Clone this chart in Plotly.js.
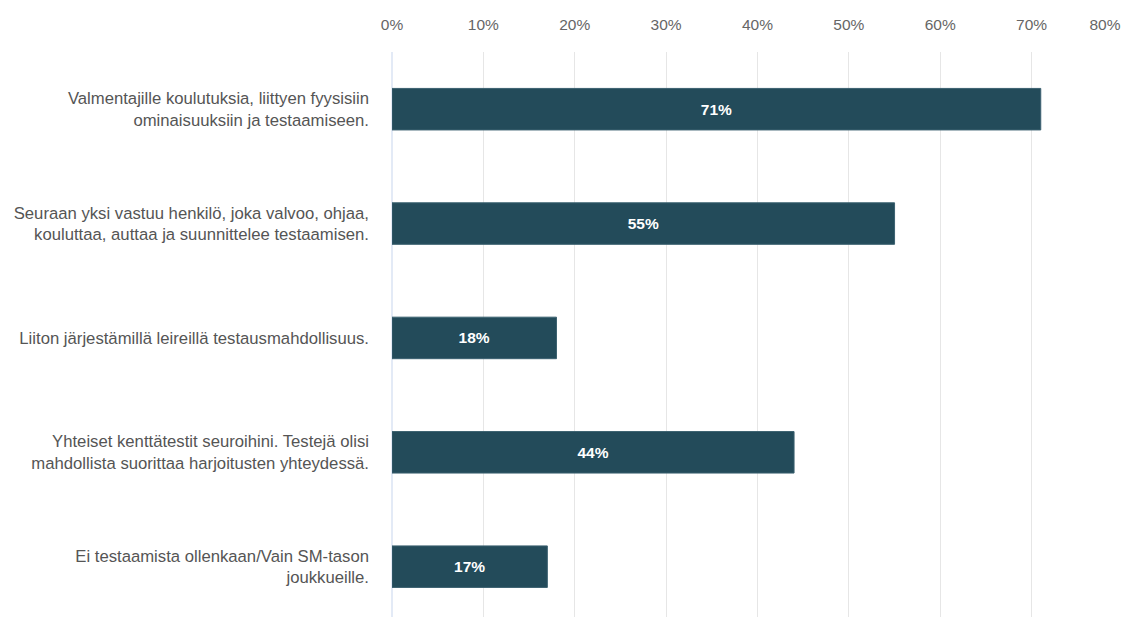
<!DOCTYPE html>
<html>
<head>
<meta charset="utf-8">
<script src="https://cdn.plot.ly/plotly-3.0.1.min.js"></script>
<style>html,body{margin:0;padding:0;background:#fff;}#chart{width:1123px;height:617px;}</style>
</head>
<body>
<div id="chart"></div>
<script>
const categories = [
  "Valmentajille koulutuksia, liittyen fyysisiin<br>ominaisuuksiin ja testaamiseen.",
  "Seuraan yksi vastuu henkilö, joka valvoo, ohjaa,<br>kouluttaa, auttaa ja suunnittelee testaamisen.",
  "Liiton järjestämillä leireillä testausmahdollisuus.",
  "Yhteiset kenttätestit seuroihini. Testejä olisi<br>mahdollista suorittaa harjoitusten yhteydessä.",
  "Ei testaamista ollenkaan/Vain SM-tason<br>joukkueille."
];
const values = [71, 55, 18, 44, 17];
const tickVals = [0, 10, 20, 30, 40, 50, 60, 70];
const tickText = ["0%", "10%", "20%", "30%", "40%", "50%", "60%", "70%"];
const lastTickVal = [80];
const lastTickText = ["80%"];

const font = "'Liberation Sans', Arial, Helvetica, sans-serif";

const data = [{
  type: "bar",
  orientation: "h",
  y: categories,
  x: values,
  text: values.map(v => v + "%"),
  textposition: "inside",
  insidetextanchor: "middle",
  textfont: {family: font, size: 15.5, color: "#ffffff", weight: "bold"},
  marker: {color: "#234b5a", line: {color: "#3b6170", width: 1}},
  hoverinfo: "none",
  cliponaxis: false
}, {
  type: "bar", orientation: "h", x: [], y: [], xaxis: "x2", showlegend: false, hoverinfo: "none"
}];

const layout = {
  width: 1123, height: 617,
  margin: {l: 392, r: 0, t: 52, b: 0},
  paper_bgcolor: "#ffffff", plot_bgcolor: "#ffffff",
  showlegend: false,
  bargap: 0.637,
  font: {family: font, size: 16.7, color: "#555555"},
  xaxis: {
    side: "top", range: [0, 80],
    tickvals: tickVals, ticktext: tickText,
    tickfont: {family: font, size: 15.5, color: "#666666"},
    showgrid: true, gridcolor: "#e6e6e6", gridwidth: 1,
    zeroline: true, zerolinecolor: "#e3eaf6", zerolinewidth: 2,
    showline: false, ticks: "", ticklabelstandoff: 18,
    fixedrange: true
  },
  xaxis2: {
    overlaying: "x", side: "top", range: [0, 80],
    tickvals: lastTickVal, ticktext: lastTickText,
    tickfont: {family: font, size: 15.5, color: "#666666"},
    ticklabelshift: -18, ticklabelstandoff: 18,
    showgrid: false, zeroline: false, showline: false, ticks: "",
    fixedrange: true
  },
  yaxis: {
    categoryorder: "array", categoryarray: categories,
    range: [4.44, -0.5],
    tickfont: {family: font, size: 16.7, color: "#555555"},
    showgrid: false, zeroline: false, showline: false, ticks: "",
    ticklabelstandoff: 22,
    fixedrange: true
  }
};

Plotly.newPlot("chart", data, layout, {displayModeBar: false, staticPlot: true});
</script>
</body>
</html>
